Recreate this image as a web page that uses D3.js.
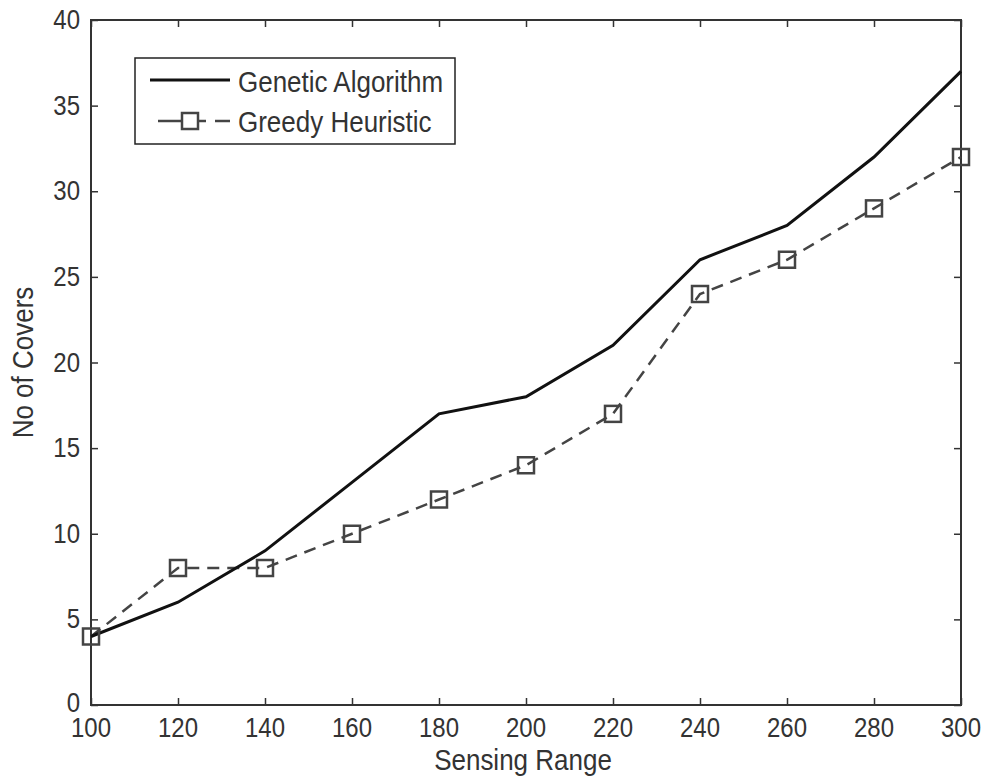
<!DOCTYPE html>
<html><head><meta charset="utf-8">
<script src="https://cdn.jsdelivr.net/npm/d3@7"></script>
<style>body{margin:0;background:#fff}svg{display:block}text{font-family:"Liberation Sans",Arial,sans-serif;fill:#333}</style>
</head><body>
<script>
const sensingRange = [100,120,140,160,180,200,220,240,260,280,300];
const geneticAlgorithm = [4,6,9,13,17,18,21,26,28,32,37];
const greedyHeuristic = [4,8,8,10,12,14,17,24,26,29,32];
const xTicks = [100,120,140,160,180,200,220,240,260,280,300];
const yTicks = [0,5,10,15,20,25,30,35,40];

const W=985,H=778;
const m={l:91,t:20,r:24,b:73};
const K=1.17; // vertical stretch of glyphs
const svg=d3.select("body").append("svg").attr("width",W).attr("height",H);
const x=d3.scaleLinear().domain([100,300]).range([m.l,W-m.r]);
const y=d3.scaleLinear().domain([0,40]).range([H-m.b,m.t]);

function label(sel,tx,ty,size,anchor,str,rot){
  return sel.append("text").attr("font-size",size).attr("text-anchor",anchor)
   .attr("transform",`translate(${tx},${ty})${rot?` rotate(${rot})`:""} scale(1,${K})`).text(str);
}

const g=svg.append("g");
const tl=7;
function styleTicks(a){a.select(".domain").remove();a.selectAll("text").remove();a.selectAll("line").attr("stroke","#333").attr("stroke-width",1.5);}
g.append("g").attr("transform",`translate(0,${y(0)})`).call(d3.axisBottom(x).tickValues(xTicks).tickSize(-tl)).call(styleTicks);
g.append("g").attr("transform",`translate(0,${y(40)})`).call(d3.axisTop(x).tickValues(xTicks).tickSize(-tl)).call(styleTicks);
g.append("g").attr("transform",`translate(${x(100)},0)`).call(d3.axisLeft(y).tickValues(yTicks).tickSize(-tl)).call(styleTicks);
g.append("g").attr("transform",`translate(${x(300)},0)`).call(d3.axisRight(y).tickValues(yTicks).tickSize(-tl)).call(styleTicks);
g.append("rect").attr("x",x(100)).attr("y",y(40)).attr("width",x(300)-x(100)).attr("height",y(0)-y(40))
 .attr("fill","none").attr("stroke","#333").attr("stroke-width",2);

xTicks.forEach(v=>label(g,x(v),y(0)+32,24,"middle",d3.format("d")(v)));
yTicks.forEach(v=>label(g,x(100)-11,y(v)+(v===0?7:9),24,"end",d3.format("d")(v)));

const line=d3.line().x((d,i)=>x(sensingRange[i])).y(d=>y(d));
svg.append("path").datum(greedyHeuristic).attr("d",line).attr("fill","none")
 .attr("stroke","#444").attr("stroke-width",2.5).attr("stroke-dasharray","12,8");
svg.append("path").datum(geneticAlgorithm).attr("d",line).attr("fill","none")
 .attr("stroke","#111").attr("stroke-width",3);
const s=16;
svg.append("g").selectAll("rect").data(greedyHeuristic).join("rect")
 .attr("x",(d,i)=>x(sensingRange[i])-s/2).attr("y",d=>y(d)-s/2).attr("width",s).attr("height",s)
 .attr("fill","none").attr("stroke","#444").attr("stroke-width",2.5);

// legend
const lg=svg.append("g");
lg.append("rect").attr("x",135).attr("y",58).attr("width",320).attr("height",86).attr("fill","#fff").attr("stroke","#222").attr("stroke-width",1.5);
lg.append("line").attr("x1",150).attr("x2",230).attr("y1",80).attr("y2",80).attr("stroke","#111").attr("stroke-width",3);
label(lg,238,92,26,"start","Genetic Algorithm");
[[158,182],[198,206],[215,230]].forEach(([a,b])=>lg.append("line").attr("x1",a).attr("x2",b).attr("y1",121).attr("y2",121).attr("stroke","#444").attr("stroke-width",2.5));
lg.append("rect").attr("x",190-s/2).attr("y",121-s/2).attr("width",s).attr("height",s).attr("fill","none").attr("stroke","#444").attr("stroke-width",2.5);
label(lg,238,132,26,"start","Greedy Heuristic");

label(svg,(x(100)+x(300))/2-3,770,26,"middle","Sensing Range");
label(svg,33,(y(0)+y(40))/2,26,"middle","No of Covers",-90);
</script>
</body></html>
